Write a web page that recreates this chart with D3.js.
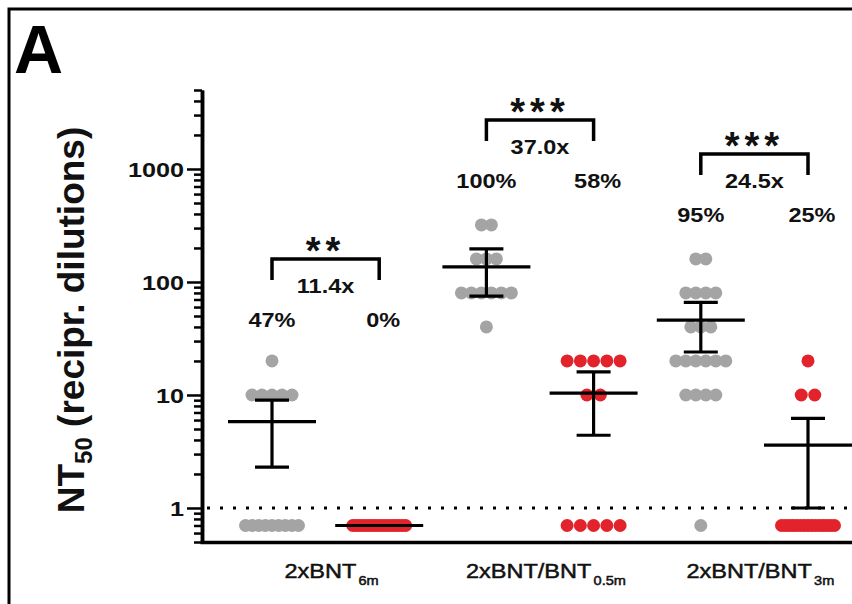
<!DOCTYPE html>
<html>
<head>
<meta charset="utf-8">
<script src="https://cdn.jsdelivr.net/npm/d3@7/dist/d3.min.js"></script>
<style>
  body { margin: 0; background: #fff; }
  svg { display: block; font-family: "Liberation Sans", Arial, sans-serif; }
</style>
</head>
<body>
<svg id="chart" width="852" height="604"></svg>
<script>
// groups on the x axis, in order (grey = before, red = after)
var groups = ["2xBNT 6m", "BNT 6m", "2xBNT 0.5m", "BNT 0.5m", "2xBNT 3m", "BNT 3m"];
var arm = ["grey", "red", "grey", "red", "grey", "red"];

// individual NT50 values (values below LOD are plotted at 0.7)
var g6m = [20, 10, 10, 10, 10, 10, 0.7, 0.7, 0.7, 0.7, 0.7, 0.7, 0.7, 0.7, 0.7];
var r6m = [0.7, 0.7, 0.7, 0.7, 0.7, 0.7, 0.7, 0.7, 0.7, 0.7, 0.7, 0.7, 0.7, 0.7, 0.7, 0.7, 0.7];
var g05 = [320, 320, 160, 160, 160, 80, 80, 80, 80, 80, 80, 40];
var r05 = [20, 20, 20, 20, 20, 10, 10, 0.7, 0.7, 0.7, 0.7, 0.7];
var g3m = [160, 160, 80, 80, 80, 80, 40, 40, 40, 20, 20, 20, 20, 20, 20, 10, 10, 10, 10, 0.7];
var r3m = [20, 10, 10, 0.7, 0.7, 0.7, 0.7, 0.7, 0.7, 0.7, 0.7, 0.7, 0.7, 0.7, 0.7, 0.7, 0.7, 0.7];
var values = [g6m, r6m, g05, r05, g3m, r3m];

// geometric mean and 95% CI
var means = [5.8, 0.7, 136, 10.4, 46, 3.6];
var upper = [9.0, null, 196, 16, 66, 6.2];
var lower = [2.3, null, 75, 4.4, 24, 1.0];

// annotations
var pctLabels = ["47%", "0%", "100%", "58%", "95%", "25%"];
var foldLabels = ["11.4x", "37.0x", "24.5x"];
var starLabels = ["**", "***", "***"];
var pairs = [[0, 1], [2, 3], [4, 5]];
var xMain = ["2xBNT", "2xBNT/BNT", "2xBNT/BNT"];
var xSub = ["6m", "0.5m", "3m"];
var yMajor = [1, 10, 100, 1000];
var lod = 1;

var bracketTop = [259, 120, 154];

var svg = d3.select("#chart");
var color = d3.scaleOrdinal().domain(["grey", "red"]).range(["#a4a4a4", "#e3232b"]);

var y = d3.scaleLog().domain([0.5, 5000]).range([542, 90]);
var x = d3.scalePoint().domain(groups).range([272, 808]);

// panel frame (left and top edges)
svg.append("path")
  .attr("d", "M9,604 V9 H852")
  .attr("fill", "none")
  .attr("stroke", "#000")
  .attr("stroke-width", 3);

// panel letter
svg.append("text")
  .attr("x", 14).attr("y", 73)
  .attr("font-size", 68).attr("font-weight", "bold")
  .text("A");

// y axis, minor then major ticks
var minor = y.ticks().filter(function(d) { return yMajor.indexOf(d) < 0; });
svg.append("g")
  .attr("transform", "translate(202,0)")
  .call(d3.axisLeft(y).tickValues(minor).tickSize(8).tickSizeOuter(0).tickFormat(""));
svg.append("g")
  .attr("transform", "translate(202,0)")
  .call(d3.axisLeft(y).tickValues(yMajor).tickSize(15).tickSizeOuter(0).tickFormat(""));
svg.selectAll(".tick line").attr("stroke", "#000").attr("stroke-width", 2.5);
svg.selectAll(".domain").attr("stroke", "#000").attr("stroke-width", 3.5);

// tick labels, drawn by hand so they can be widened a bit like the source
svg.selectAll(".ylab")
  .data(yMajor)
  .enter().append("g")
  .attr("transform", function(d) { return "translate(184," + (y(d) + 8) + ") scale(1.2,1)"; })
  .append("text")
  .attr("text-anchor", "end")
  .attr("font-size", 21).attr("font-weight", "bold")
  .attr("fill", "#111")
  .text(function(d) { return d; });

// y title
var yt = svg.append("text")
  .attr("transform", "translate(84,320) rotate(-90)")
  .attr("text-anchor", "middle")
  .attr("font-size", 37).attr("font-weight", "bold")
  .attr("fill", "#111");
yt.append("tspan").text("NT");
yt.append("tspan").attr("font-size", 24).attr("dy", 8).text("50");
yt.append("tspan").attr("dy", -8).text(" (recipr. dilutions)");

// x axis
var xLine = d3.scaleLinear().range([200, 852]);
svg.append("g")
  .attr("transform", "translate(0,542)")
  .call(d3.axisBottom(xLine).ticks(0).tickSizeOuter(0))
  .select(".domain").attr("stroke", "#000").attr("stroke-width", 3.5);

// limit of detection
svg.append("line")
  .attr("x1", 207).attr("x2", 852)
  .attr("y1", y(lod)).attr("y2", y(lod))
  .attr("stroke", "#000").attr("stroke-width", 3)
  .attr("stroke-dasharray", "3 10");

// dots, stacked side by side when they share a value
var dots = [];
values.forEach(function(vals, i) {
  var rows = d3.rollup(vals, function(v) { return v.length; }, function(d) { return d; });
  var maxStep = arm[i] === "red" ? 13.5 : 10;
  rows.forEach(function(k, v) {
    var step = k > 1 ? Math.min(maxStep, 53 / (k - 1)) : 0;
    for (var j = 0; j < k; j++) {
      dots.push({ g: groups[i], arm: arm[i], v: v, off: (j - (k - 1) / 2) * step });
    }
  });
});
svg.append("g").selectAll("circle")
  .data(dots)
  .enter().append("circle")
  .attr("cx", function(d) { return x(d.g) + d.off; })
  .attr("cy", function(d) { return y(d.v); })
  .attr("r", 6.5)
  .attr("fill", function(d) { return color(d.arm); });

// mean and CI bars
var bars = svg.append("g").attr("stroke", "#000").attr("stroke-width", 3.2).attr("fill", "none");
groups.forEach(function(g, i) {
  var cx = x(g);
  bars.append("line").attr("x1", cx - 44).attr("x2", cx + 44)
    .attr("y1", y(means[i])).attr("y2", y(means[i]));
  if (upper[i] == null) return;
  bars.append("line").attr("x1", cx).attr("x2", cx)
    .attr("y1", y(upper[i])).attr("y2", y(lower[i]));
  [upper[i], lower[i]].forEach(function(v) {
    bars.append("line").attr("x1", cx - 17).attr("x2", cx + 17)
      .attr("y1", y(v)).attr("y2", y(v));
  });
});

// brackets, fold change, significance, responder %
function wideText(sel, tx, ty, str, size, weight) {
  return sel.append("g")
    .attr("transform", "translate(" + tx + "," + ty + ") scale(1.12,1)")
    .append("text")
    .attr("text-anchor", "middle")
    .attr("font-size", size).attr("font-weight", weight)
    .attr("fill", "#111")
    .text(str);
}

pairs.forEach(function(p, i) {
  var x0 = x(groups[p[0]]), x1 = x(groups[p[1]]), top = bracketTop[i];
  svg.append("path")
    .attr("d", "M" + x0 + "," + (top + 21) + " V" + top + " H" + x1 + " V" + (top + 21))
    .attr("fill", "none").attr("stroke", "#000").attr("stroke-width", 3.5);
  wideText(svg, (x0 + x1) / 2, top + 34, foldLabels[i], 21, "bold");
  svg.append("text")
    .attr("x", (x0 + x1) / 2).attr("y", top + 5)
    .attr("text-anchor", "middle")
    .attr("font-size", 38).attr("font-weight", "bold")
    .attr("letter-spacing", 5)
    .attr("fill", "#111")
    .text(starLabels[i]);
  wideText(svg, x0, top + 68, pctLabels[p[0]], 21, "bold");
  wideText(svg, x1 + 4, top + 68, pctLabels[p[1]], 21, "bold");

  // category label under the pair
  var lab = svg.append("g")
    .attr("transform", "translate(" + ((x0 + x1) / 2 + 6) + ",578) scale(1.12,1)")
    .append("text")
    .attr("text-anchor", "middle")
    .attr("font-size", 21)
    .attr("fill", "#111")
    .attr("stroke", "#111").attr("stroke-width", 0.5);
  lab.append("tspan").text(xMain[i]);
  lab.append("tspan").attr("font-size", 13).attr("dy", 7).attr("dx", 2).text(xSub[i]);
});
</script>
</body>
</html>
